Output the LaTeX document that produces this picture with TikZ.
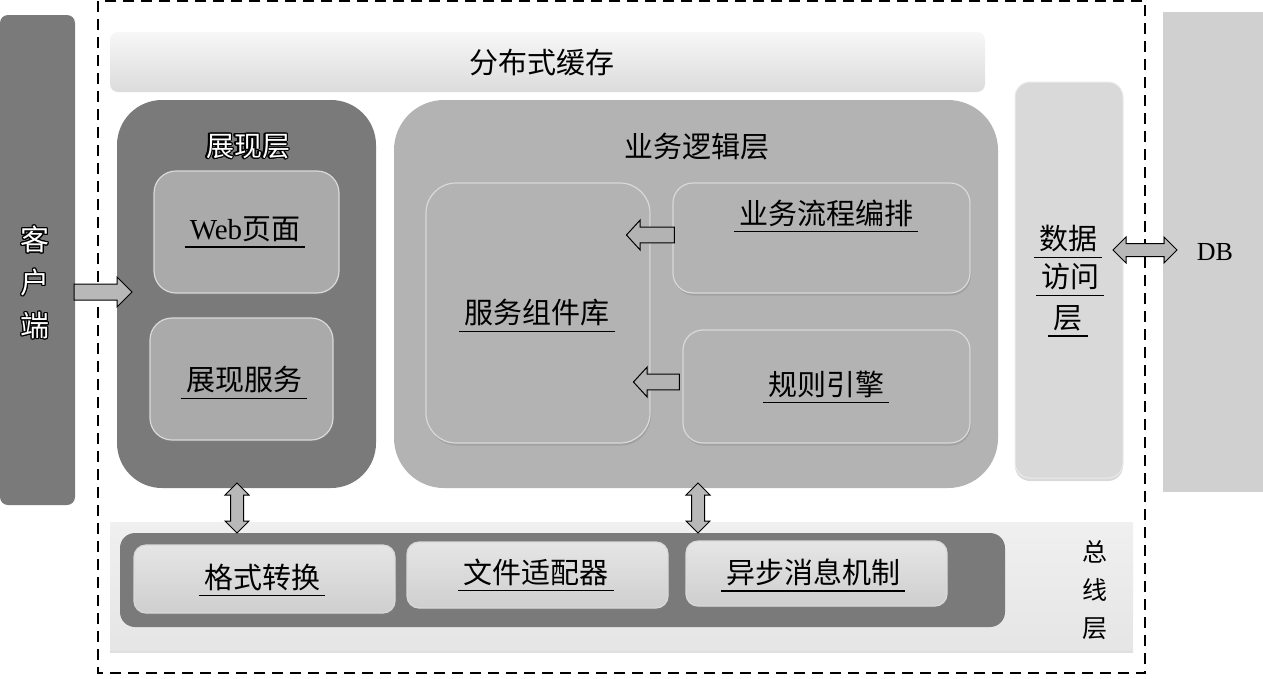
\documentclass[tikz,border=0pt]{standalone}
\usepackage{fontspec}
\setmainfont{Liberation Serif}
\newfontfamily\cjk{Noto Sans CJK SC}
\usepackage{contour}
\contourlength{1.1pt}
\usetikzlibrary{shapes.arrows,shadows}
\definecolor{dkg}{HTML}{7A7A7A}
\definecolor{bizg}{HTML}{B3B3B3}
\definecolor{ing}{HTML}{AAAAAA}
\definecolor{dalg}{HTML}{D9D9D9}
\definecolor{dbg}{HTML}{D0D0D0}
\definecolor{arrg}{HTML}{B8B8B8}
\tikzset{
  box/.style={rectangle, inner sep=0pt, draw=none},
  inbox/.style={box, draw=white!85!black, line width=1.2pt,
    drop shadow={opacity=0.35, shadow xshift=1pt, shadow yshift=-2.5pt}},
  lbl/.style={font=\cjk\fontsize{29}{34}\selectfont, inner xsep=5pt, inner ysep=5pt, text=black},
  ul/.style={line width=1.6pt, black},
  blockarrow/.style={draw=black, line width=1pt, fill=arrg, inner sep=0pt},
}
\newcommand\ulabel[3]{%
  \node[lbl] (#1) at #2 {#3};
  \draw[ul] (#1.south west) -- (#1.south east);}
\begin{document}
\begin{tikzpicture}[x=1pt,y=-1pt]
\useasboundingbox (0,0) rectangle (1263,678);
% outer dashed frame
\draw[dash pattern=on 11pt off 7pt, line width=1.4pt] (98,1) rectangle (1145,673);
% client
\node[box, fill=dkg, rounded corners=8pt, minimum width=75, minimum height=490] (client) at (37.5,260) {};
\node[font=\cjk\fontsize{29}{43}\selectfont, align=center, inner sep=0pt] (clientt) at (35,283)
  {\contour{black}{\textcolor{white}{客}}\\\contour{black}{\textcolor{white}{户}}\\\contour{black}{\textcolor{white}{端}}};
% DB
\node[box, fill=dbg, minimum width=100, minimum height=480] (db) at (1213,252) {};
\node[font=\fontsize{26}{30}\selectfont, inner sep=0pt] (dbt) at (1215,252) {DB};
% distributed cache
\node[box, top color=white!97!black, bottom color=black!14, rounded corners=8pt,
  minimum width=875, minimum height=60] (cache) at (547.5,62) {};
\node[lbl] (cachet) at (542,63) {分布式缓存};
% presentation layer
\node[box, fill=dkg, rounded corners=45pt, minimum width=259, minimum height=388] (pres) at (246.5,294) {};
\node[font=\cjk\fontsize{28}{32}\selectfont, inner sep=0pt] (prest) at (248,147)
  {\contour{black}{\textcolor{white}{展现层}}};
\node[inbox, fill=ing, rounded corners=22pt, minimum width=185, minimum height=122] (web) at (246.5,232) {};
\ulabel{webt}{(245,229)}{{\rmfamily Web}页面}
\node[inbox, fill=ing, rounded corners=22pt, minimum width=183, minimum height=122] (psvc) at (241.5,379) {};
\ulabel{psvct}{(244,380)}{展现服务}
% business logic layer
\node[box, fill=bizg, rounded corners=50pt, minimum width=604, minimum height=388] (biz) at (696,294) {};
\node[lbl] (bizt) at (697,147) {业务逻辑层};
\node[inbox, fill=bizg, rounded corners=30pt, minimum width=224, minimum height=260] (comp) at (538,313) {};
\ulabel{compt}{(537,313)}{服务组件库}
\node[inbox, fill=bizg, rounded corners=20pt, minimum width=297, minimum height=110] (flow) at (821.5,238) {};
\ulabel{flowt}{(826,213)}{业务流程编排}
\node[inbox, fill=bizg, rounded corners=20pt, minimum width=287, minimum height=113] (rule) at (826.5,386.5) {};
\ulabel{rulet}{(826,384)}{规则引擎}
% arrows inside business layer
\node[blockarrow, fill=bizg, single arrow, shape border rotate=180, minimum height=48, minimum width=30,
  inner xsep=7pt, inner ysep=7pt, single arrow head extend=7pt, single arrow tip angle=95] (a1) at (654,235) {};
\node[blockarrow, fill=bizg, single arrow, shape border rotate=180, minimum height=46, minimum width=30,
  inner xsep=7pt, inner ysep=7pt, single arrow head extend=7pt, single arrow tip angle=95] (a2) at (660,382) {};
% data access layer
\node[box, fill=dalg, rounded corners=15pt, draw=white!92!black, line width=1pt,
  drop shadow={opacity=0.3, shadow xshift=0pt, shadow yshift=-3pt},
  minimum width=108, minimum height=396] (dal) at (1069,280) {};
\ulabel{dal1}{(1068,239)}{数据}
\ulabel{dal2}{(1070,277)}{访问}
\ulabel{dal3}{(1068,318)}{层}
% bus layer
\node[box, top color=black!6, bottom color=black!10, minimum width=1023, minimum height=128,
  drop shadow={opacity=0.25, shadow xshift=0pt, shadow yshift=-3pt}] (busbg) at (621.5,586) {};
\node[box, fill=dkg, rounded corners=15pt, minimum width=885, minimum height=94] (bus) at (562.5,580) {};
\node[inbox, top color=black!10, bottom color=black!19, rounded corners=12pt, minimum width=261, minimum height=68] (fmt) at (264.5,579) {};
\ulabel{fmtt}{(262,577)}{格式转换}
\node[inbox, top color=black!10, bottom color=black!19, rounded corners=12pt, minimum width=261, minimum height=66] (file) at (537.5,575) {};
\ulabel{filet}{(536,572)}{文件适配器}
\node[inbox, top color=black!10, bottom color=black!19, rounded corners=12pt, minimum width=261, minimum height=65] (async) at (816.5,573.5) {};
\ulabel{asynct}{(813,572)}{异步消息机制}
\node[font=\cjk\fontsize{25}{38}\selectfont, align=center, inner sep=0pt] (bust) at (1095,590) {总\\线\\层};
% block arrows between layers
\node[blockarrow, single arrow, minimum height=58, minimum width=29, inner xsep=7.5pt, inner ysep=7.5pt,
  single arrow head extend=7pt, single arrow tip angle=90] (ca) at (99,292) {};
\node[blockarrow, double arrow, shape border rotate=90, minimum height=50, minimum width=23,
  inner xsep=6pt, inner ysep=6pt, double arrow head extend=5.5pt, double arrow tip angle=90] (va1) at (237,508) {};
\node[blockarrow, double arrow, shape border rotate=90, minimum height=50, minimum width=23,
  inner xsep=6pt, inner ysep=6pt, double arrow head extend=5.5pt, double arrow tip angle=90] (va2) at (698,508) {};
\node[blockarrow, double arrow, minimum height=64, minimum width=25, inner xsep=6pt,
  inner ysep=6pt, double arrow head extend=6.5pt, double arrow tip angle=90] (ha) at (1145,250) {};
\end{tikzpicture}
\end{document}
